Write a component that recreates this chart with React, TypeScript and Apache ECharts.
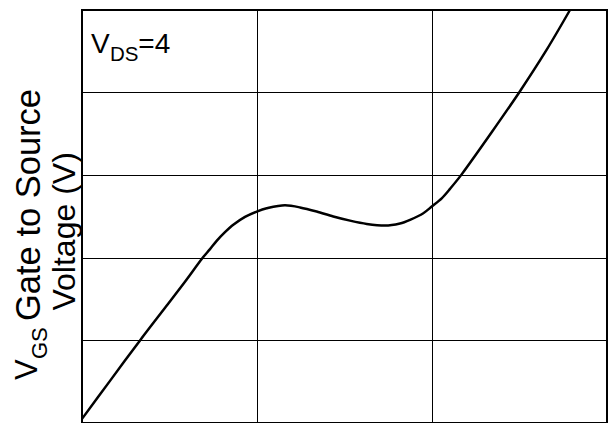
import React, { useEffect, useRef } from "react";
import * as echarts from "echarts";

// Gate charge (arbitrary nC scale) vs gate-to-source voltage (V)
const qg = [0, 3.2, 6.63, 9.6, 11.77, 13.79, 14.63, 15.39, 16.34, 17.29, 18.63, 19.97, 21.11, 23.2, 24.91, 26.82, 28.72, 30.63, 32.54, 34.63, 36.34, 37.49, 39.01, 39.97, 41.11, 42.06, 43.39, 46.82, 49.98, 53.11, 55.77];
const vgs = [0.1, 1.02, 2.0, 2.82, 3.42, 4.0, 4.21, 4.41, 4.62, 4.8, 4.99, 5.12, 5.2, 5.27, 5.22, 5.12, 5.0, 4.9, 4.82, 4.78, 4.83, 4.92, 5.08, 5.24, 5.44, 5.67, 6.02, 7.04, 8.01, 9.04, 10.0];

const FONT = "'Liberation Sans', Arial, Helvetica, sans-serif";

export default function App() {
  const ref = useRef<HTMLDivElement>(null);
  useEffect(() => {
    if (!ref.current) return;
    const chart = echarts.init(ref.current, undefined, { renderer: "svg" });
    const data = qg.map((x, i) => [x, vgs[i]]);
    const rot = Math.PI / 2;
    const txt = (text: string, x: number, y: number, size: number, rotation = 0) => ({
      type: "text",
      x,
      y,
      rotation,
      z: 10,
      style: {
        text,
        fontFamily: FONT,
        fontSize: size,
        fill: "#000",
        align: "left",
        verticalAlign: "middle",
      },
    });
    chart.setOption({
      animation: false,
      backgroundColor: "#fff",
      grid: {
        left: 82,
        top: 10,
        width: 525,
        height: 417,
        show: true,
        borderColor: "#000",
        borderWidth: 2,
        backgroundColor: "transparent",
      },
      xAxis: {
        type: "value",
        min: 0,
        max: 60,
        interval: 20,
        axisLabel: { show: false },
        axisTick: { show: false },
        axisLine: { show: false },
        splitLine: { show: true, lineStyle: { color: "#000", width: 1 } },
      },
      yAxis: {
        type: "value",
        min: 0,
        max: 10,
        interval: 2,
        axisLabel: { show: false },
        axisTick: { show: false },
        axisLine: { show: false },
        splitLine: { show: true, lineStyle: { color: "#000", width: 1 } },
      },
      series: [
        {
          type: "line",
          data,
          smooth: 0.3,
          showSymbol: false,
          lineStyle: { color: "#000", width: 2.5 },
          clip: true,
        },
      ],
      graphic: [
        // V_DS=4 annotation
        txt("V", 91, 43.6, 28),
        txt("DS", 110, 53.8, 20.5),
        txt("=4", 138.3, 43.6, 28),
        // rotated y-axis title
        txt("V", 26.3, 380, 31, rot),
        txt("GS", 39.1, 359, 22, rot),
        txt("Gate to Source", 27.7, 321, 34.5, rot),
        txt("Voltage (V)", 64, 310.5, 32, rot),
      ],
    });
    return () => chart.dispose();
  }, []);
  return (
    <div
      ref={ref}
      style={{ position: "fixed", left: 0, top: 0, width: 612, height: 423 }}
    />
  );
}
